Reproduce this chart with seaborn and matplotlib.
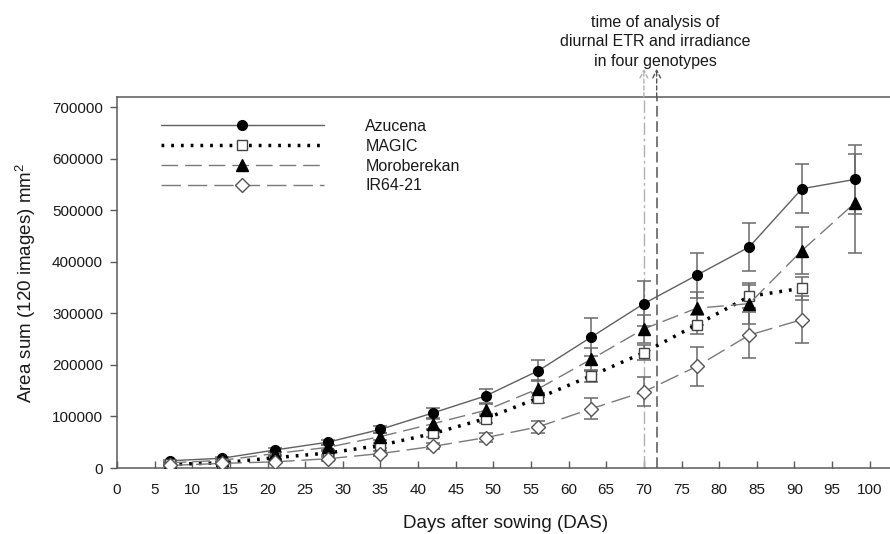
import matplotlib
matplotlib.use("Agg")
import matplotlib.pyplot as plt
from matplotlib.lines import Line2D
import seaborn as sns

# Plant area sums (mm^2) over the growth period
days = [7, 14, 21, 28, 35, 42, 49, 56, 63, 70, 77, 84, 91, 98]

azucena = [14000, 19000, 35000, 50000, 75000, 107000, 140000, 189000, 254000,
           319000, 374000, 429000, 542000, 560000]
azucena_err = [2000, 3000, 4000, 5000, 7000, 10000, 13000, 21000, 37000,
               44000, 44000, 47000, 48000, 67000]

magic = [7000, 10000, 20000, 29000, 44000, 67000, 96000, 136000, 179000,
         224000, 278000, 333000, 349000]
magic_err = [1500, 2000, 3000, 4000, 5000, 6000, 8000, 10000, 12000,
             15000, 18000, 22000, 22000]

moroberekan = [10000, 15000, 28000, 40000, 61000, 86000, 112000, 154000,
               211000, 270000, 310000, 319000, 422000, 514000]
moroberekan_err = [2000, 2500, 3500, 5000, 7000, 10000, 12000, 16000, 22000,
                   27000, 32000, 40000, 46000, 96000]

ir64 = [5000, 9000, 12000, 18000, 28000, 42000, 59000, 80000, 115000,
        148000, 197000, 258000, 288000]
ir64_err = [1500, 2000, 2500, 3500, 5000, 6000, 9000, 12000, 20000,
            28000, 37000, 45000, 45000]

series_names = ["Azucena", "MAGIC", "Moroberekan", "IR64-21"]
analysis_days = [70, 71.7]
x_ticks = list(range(0, 101, 5))
y_ticks = list(range(0, 700001, 100000))

sns.set_theme(style="white")
plt.rcParams["font.family"] = ["Liberation Sans", "DejaVu Sans"]
plt.rcParams["mathtext.default"] = "regular"

fig = plt.figure(figsize=(8.9, 5.34), dpi=100)
ax = fig.add_axes([117 / 890, 1 - 468 / 534, 1 - 117 / 890, (468 - 97) / 534])

spine_col = "#5a5a5a"
err_col = "#6a6a6a"

styles = [
    dict(name="Azucena", x=days, y=azucena, err=azucena_err,
         color="#606060", ls="-", lw=1.0, marker="o", ms=7,
         mfc="black", mec="black"),
    dict(name="MAGIC", x=days[:13], y=magic, err=magic_err,
         color="black", ls=(0, (0.8, 2.0)), lw=2.5, marker="s", ms=7.5,
         mfc="white", mec="#444444"),
    dict(name="Moroberekan", x=days, y=moroberekan, err=moroberekan_err,
         color="#7a7a7a", ls=(0, (12, 5)), lw=1.0, marker="^", ms=8,
         mfc="black", mec="black"),
    dict(name="IR64-21", x=days[:13], y=ir64, err=ir64_err,
         color="#7a7a7a", ls=(0, (14, 5)), lw=1.0, marker="D", ms=7.5,
         mfc="white", mec="#555555"),
]

handles = []
for s in styles:
    ax.errorbar(s["x"], s["y"], yerr=s["err"], fmt="none", ecolor=err_col,
                elinewidth=1.1, capsize=4.8, capthick=1.1, zorder=2)
    sns.lineplot(x=s["x"], y=s["y"], ax=ax, color=s["color"],
                 linestyle=s["ls"], linewidth=s["lw"], marker=s["marker"],
                 markersize=s["ms"], markerfacecolor=s["mfc"],
                 markeredgecolor=s["mec"], markeredgewidth=1.0, zorder=3)
    handles.append(Line2D([0], [0], color=s["color"], linestyle=s["ls"],
                          linewidth=s["lw"], marker=s["marker"],
                          markersize=s["ms"], markerfacecolor=s["mfc"],
                          markeredgecolor=s["mec"], markeredgewidth=1.0))

# Sampling days for the diurnal ETR measurements
ax.axvline(analysis_days[0], color="#b0b0b0", lw=1.0,
           linestyle=(0, (9, 2.5, 2, 2.5)), zorder=1)
ax.axvline(analysis_days[1], color="#555555", lw=1.1,
           linestyle=(0, (7, 3)), zorder=1)
for xd, c in zip(analysis_days, ["#b0b0b0", "#555555"]):
    ax.annotate("", xy=(xd, 775000), xytext=(xd, 720000),
                xycoords="data", annotation_clip=False,
                arrowprops=dict(arrowstyle="->", color=c, lw=1.0,
                                linestyle=(0, (3, 2)),
                                shrinkA=0, shrinkB=0,
                                mutation_scale=14))

fig.text(655 / 890, 1 - 42 / 534,
         "time of analysis of\ndiurnal ETR and irradiance\nin four genotypes",
         ha="center", va="center", multialignment="center",
         fontsize=11.5, linespacing=1.38, color="#1a1a1a")

ax.set_xlim(0, 102.7)
ax.set_ylim(0, 720000)
ax.set_xticks(x_ticks)
ax.set_xticklabels([str(t) for t in x_ticks])
ax.set_yticks(y_ticks)
ax.set_yticklabels([str(t) for t in y_ticks])

ax.tick_params(axis="x", direction="in", length=5, width=1.0,
               color=spine_col, pad=11, labelsize=11, labelcolor="#1a1a1a",
               bottom=True)
ax.tick_params(axis="y", direction="out", length=5, width=1.0,
               color=spine_col, pad=5, labelsize=11, labelcolor="#1a1a1a",
               left=True)

for side in ["left", "bottom", "top"]:
    ax.spines[side].set_visible(True)
    ax.spines[side].set_color(spine_col)
    ax.spines[side].set_linewidth(1.1)
ax.spines["right"].set_visible(False)

ax.set_xlabel("Days after sowing (DAS)", fontsize=13.5, color="#1a1a1a")
ax.set_ylabel("Area sum (120 images) mm$^2$", fontsize=13.5, color="#1a1a1a")
ax.xaxis.set_label_coords((506 - 117) / 773, -(523 - 468) / 371)
ax.xaxis.label.set_va("center")
ax.yaxis.set_label_coords(-(117 - 26) / 773, 0.5)
ax.yaxis.label.set_va("center")

leg = ax.legend(handles, series_names, loc="upper left",
                bbox_to_anchor=((161 - 117) / 773, (468 - 119) / 371),
                frameon=False, fontsize=11.5, handlelength=10.2,
                handletextpad=2.6, labelspacing=0.3, borderpad=0,
                borderaxespad=0, numpoints=1)
for t in leg.get_texts():
    t.set_color("#1a1a1a")

fig.savefig("out.png", dpi=100)
